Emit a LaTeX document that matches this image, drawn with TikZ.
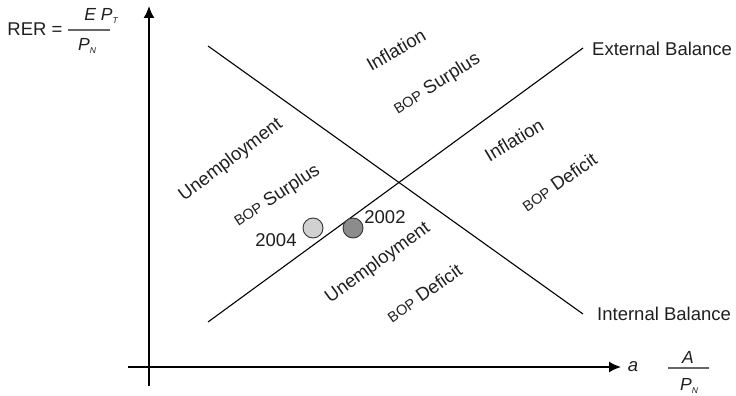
\documentclass[tikz,border=0pt]{standalone}
\usepackage{fontspec}
\setmainfont{Liberation Sans}
\usetikzlibrary{arrows.meta}
\newcommand{\bop}{{\fontsize{14.5}{16}\selectfont BOP}}
\newcommand{\tsub}[1]{\raisebox{-3pt}{\fontsize{8.5}{9}\selectfont\itshape #1}}
\begin{document}
\begin{tikzpicture}[x=1pt, y=-1pt, >={Latex[length=12pt,width=11pt]},
    lbl/.style={font=\fontsize{18.5}{22}\selectfont, text=black!88, inner sep=0pt},
    frac/.style={font=\fontsize{17.5}{20}\selectfont\itshape, text=black!88, inner sep=0pt},
    region/.style={lbl, rotate=32},
    year/.style={circle, draw=black!80, line width=0.9pt, minimum size=20pt, inner sep=0pt}]
  \useasboundingbox (0,0) rectangle (736,396);
  % Axes
  \coordinate (ybot) at (149,386);
  \coordinate (ytop) at (149,6);
  \coordinate (xleft) at (128,367);
  \coordinate (xright) at (621,367);
  \draw[->, line width=1.6pt] (ybot) -- (ytop);
  \draw[->, line width=1.6pt] (xleft) -- (xright);
  \node[lbl, font=\fontsize{18.5}{22}\selectfont\itshape] (alab) at (633,367) {a};
  % Axis fractions
  \node[lbl] (rer) at (35,29) {RER =};
  \node[frac] (rnum) at (101,16) {E P\tsub{T}};
  \node[frac] (rden) at (87,46) {P\tsub{N}};
  \coordinate (rbar1) at (68,30);
  \coordinate (rbar2) at (110,30);
  \draw[black!60, line width=1.2pt] (rbar1) -- (rbar2);
  \node[frac] (anum) at (688,357) {A};
  \node[frac] (aden) at (689,386) {P\tsub{N}};
  \coordinate (abar1) at (668,368);
  \coordinate (abar2) at (709,368);
  \draw[black!60, line width=1.2pt] (abar1) -- (abar2);
  % Balance schedules
  \coordinate (ib1) at (208,46);
  \coordinate (ib2) at (583,314);
  \coordinate (eb1) at (208,322);
  \coordinate (eb2) at (583,48);
  \draw[line width=1.1pt] (ib1) -- (ib2);
  \draw[line width=1.1pt] (eb1) -- (eb2);
  \node[lbl, anchor=west] (ext) at (592,49) {External Balance};
  \node[lbl, anchor=west] (int) at (597,314) {Internal Balance};
  % Regions
  \node[region, rotate=-2] (infl1) at (396,50) {Inflation};
  \node[region] (bop1) at (437,84) {\bop{} Surplus};
  \node[region, rotate=5] (unem1) at (231,160) {Unemployment};
  \node[region, rotate=1] (bop2) at (277,196) {\bop{} Surplus};
  \node[region, rotate=-1] (infl2) at (514,140) {Inflation};
  \node[region, rotate=3] (bop3) at (559,182) {\bop{} Deficit};
  \node[region, rotate=4] (unem2) at (378,263) {Unemployment};
  \node[region, rotate=3] (bop4) at (424,293) {\bop{} Deficit};
  % Observations
  \node[year, fill=black!18] (y04) at (313,228) {};
  \node[year, fill=black!45] (y02) at (353,228) {};
  \node[lbl] (l04) at (276,240) {2004};
  \node[lbl] (l02) at (385,217) {2002};
\end{tikzpicture}
\end{document}
